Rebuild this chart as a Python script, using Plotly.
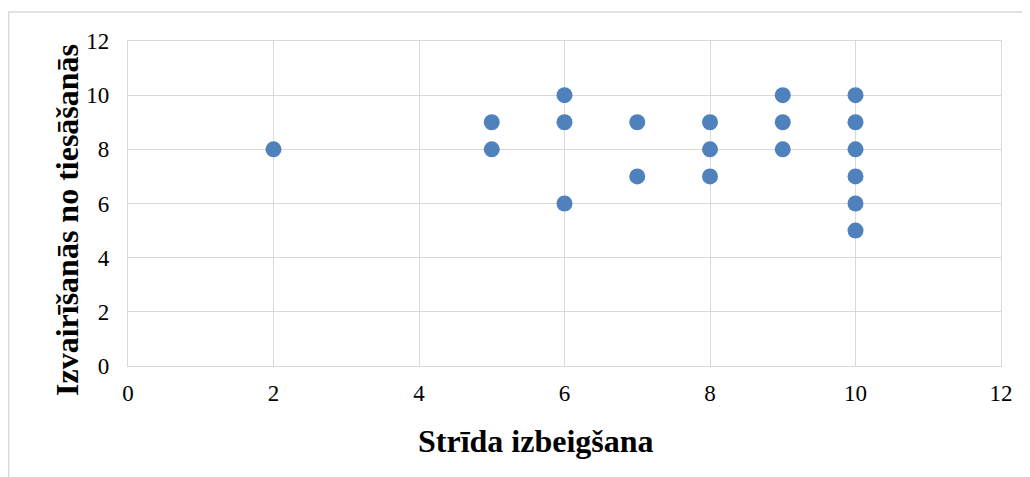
import plotly.graph_objects as go

x_vals = [2, 5, 5, 6, 6, 6, 7, 7, 8, 8, 8, 9, 9, 9, 10, 10, 10, 10, 10, 10]
y_vals = [8, 9, 8, 10, 9, 6, 9, 7, 9, 8, 7, 10, 9, 8, 10, 9, 8, 7, 6, 5]
x_title = "Strīda izbeigšana"
y_title = "Izvairīšanās no tiesāšanās"

OFF = 8  # page body margin
W, H = 1030 - OFF, 477 - OFF
L, T = 128 - OFF, 41 - OFF
R = OFF + W - 1001
B = OFF + H - 366
pw, ph = W - L - R, H - T - B

def px_x(p):
    return (p - OFF - L) / pw

def px_y(p):
    return (OFF + H - B - p) / ph

fig = go.Figure()
fig.add_trace(go.Scatter(
    x=x_vals, y=y_vals, mode="markers",
    marker=dict(size=16, color="#4f81bd", line=dict(width=0)),
    cliponaxis=False, showlegend=False,
))

font = "Liberation Serif, Times New Roman, serif"
axis_common = dict(
    range=[0, 12], dtick=2, showgrid=True, gridcolor="#d9d9d9", gridwidth=1.3,
    zeroline=False, showline=True, linecolor="#d9d9d9", linewidth=1.3, mirror=True,
    ticks="", tickfont=dict(family=font, size=23, color="#000000"),
)
fig.update_xaxes(**axis_common, ticklabelstandoff=6)
fig.update_yaxes(**axis_common, ticklabelstandoff=13)

fig.add_annotation(text="<b>" + x_title + "</b>", xref="paper", yref="paper",
                   x=px_x(536), y=px_y(441), xanchor="center", yanchor="middle",
                   showarrow=False, font=dict(family=font, size=32, color="#000000"))
fig.add_annotation(text="<b>" + y_title + "</b>", xref="paper", yref="paper",
                   x=px_x(67), y=px_y(220), xanchor="center", yanchor="middle",
                   textangle=-90, showarrow=False,
                   font=dict(family=font, size=32, color="#000000"))

fig.add_shape(type="rect", xref="paper", yref="paper",
              x0=px_x(8.7), x1=px_x(1045), y0=px_y(12), y1=px_y(490),
              line=dict(color="#d9d9d9", width=1.3), fillcolor="rgba(0,0,0,0)", layer="below")

fig.update_layout(
    width=W, height=H,
    margin=dict(l=L, r=R, t=T, b=B),
    paper_bgcolor="white", plot_bgcolor="white",
    font=dict(family=font),
)

fig.write_html("out.html")
